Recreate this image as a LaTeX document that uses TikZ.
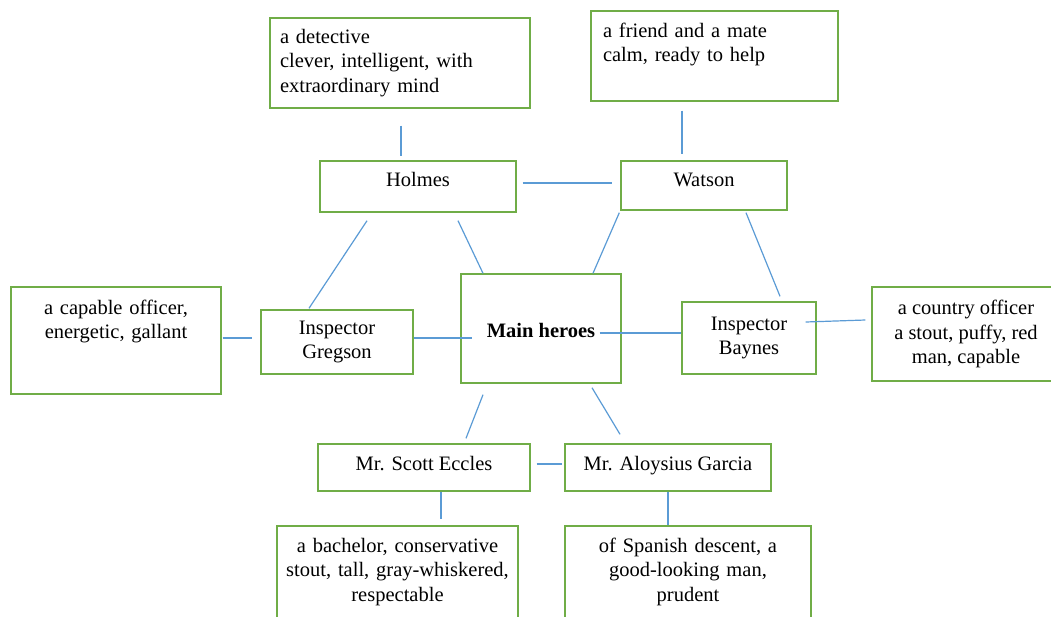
\documentclass[tikz,border=0pt]{standalone}
\usepackage{fontspec}
\setmainfont{Liberation Serif}
\usetikzlibrary{positioning}
\definecolor{boxgreen}{HTML}{70AD47}
\definecolor{lineblue}{HTML}{5B9BD5}
\tikzstyle{block} = [rectangle, draw=boxgreen, line width=1.4pt, inner sep=0pt, align=center, font=\fontsize{20.5}{24.5}\selectfont]
\tikzstyle{link} = [draw=lineblue, line width=1.2pt]

\begin{document}
\begin{tikzpicture}[x=1pt, y=-1pt]
\useasboundingbox (0,0) rectangle (1051,616);
% Define nodes
\node (main) [block, minimum width=160, text height=63, text depth=46, font=\fontsize{20.5}{24.5}\selectfont\bfseries] at (541,328.5) {Main heroes};
\node (holmes) [block, minimum width=196, text height=25, text depth=26] at (418,186.5) {Holmes};
\node (watson) [block, minimum width=166, text height=25, text depth=24] at (704,185.5) {Watson};
\node (gregson) [block, minimum width=152, minimum height=64] at (337,342) {Inspector\\Gregson};
\node (baynes) [block, minimum width=134, minimum height=72] at (749,338) {Inspector\\Baynes};
\node (eccles) [block, minimum width=212, text height=26, text depth=21] at (424,467.5) {Mr. Scott Eccles};
\node (garcia) [block, minimum width=206, text height=26, text depth=21] at (668,467.5) {Mr. Aloysius Garcia};
\node (detective) [block, align=left, text width=240, inner xsep=10, minimum height=90] at (400,63) {a detective\\clever, intelligent, with\\extraordinary mind};
\node (friend) [block, align=left, text width=223, inner xsep=12, text height=26, text depth=64] at (714.5,56) {a friend and a mate\\calm, ready to help};
\node (officer) [block, text width=210, text height=27, text depth=80] at (116,340.5) {a capable officer,\\energetic, gallant};
\node (country) [block, minimum width=188, minimum height=94] at (966,334) {a country officer\\a stout, puffy, red\\man, capable};
\node (bachelor) [block, text width=241, text height=26, text depth=74] at (397.5,576) {a bachelor, conservative\\stout, tall, gray-whiskered,\\respectable};
\node (spanish) [block, text width=246, text height=26, text depth=74] at (688,576) {of Spanish descent,\ a\\good-looking man,\\prudent};
% Connect nodes with lines
\draw [link] ([xshift=1,yshift=-17]detective.south) -- ([xshift=-17,yshift=4]holmes.north);
\draw [link] ([xshift=-32.5,yshift=-9]friend.south) -- ([xshift=-22,yshift=6]watson.north);
\draw [link] ([xshift=6,yshift=3.5]holmes.east) -- ([xshift=-8,yshift=2.5]watson.west);
\draw [link] ([xshift=40,yshift=-8]holmes.south) -- ([xshift=-58]main.north);
\draw [link] ([xshift=-51,yshift=-8]holmes.south) -- ([xshift=-28,yshift=1]gregson.north);
\draw [link] ([xshift=-1,yshift=-2]watson.south west) -- ([xshift=52]main.north);
\draw [link] ([xshift=42,yshift=-2]watson.south) -- ([xshift=31,yshift=5]baynes.north);
\draw [link] ([yshift=4]gregson.east) -- ([xshift=12,yshift=-9.5]main.west);
\draw [link] ([xshift=-22,yshift=-4.5]main.east) -- ([yshift=5]baynes.west);
\draw [link] ([xshift=1,yshift=2.5]officer.east) -- ([xshift=-8,yshift=4]gregson.west);
\draw [link] ([xshift=-11,yshift=16]baynes.east) -- ([xshift=-6,yshift=14]country.west);
\draw [link] ([xshift=-58,yshift=-11]main.south) -- ([xshift=42,yshift=5]eccles.north);
\draw [link] ([xshift=51,yshift=-4]main.south) -- ([xshift=-48,yshift=9]garcia.north);
\draw [link] ([xshift=6,yshift=3.5]eccles.east) -- ([xshift=-2,yshift=3.5]garcia.west);
\draw [link] ([xshift=17]eccles.south) -- ([xshift=43.5,yshift=6]bachelor.north);
\draw [link] (garcia.south) -- ([xshift=-20]spanish.north);
\end{tikzpicture}
\end{document}
